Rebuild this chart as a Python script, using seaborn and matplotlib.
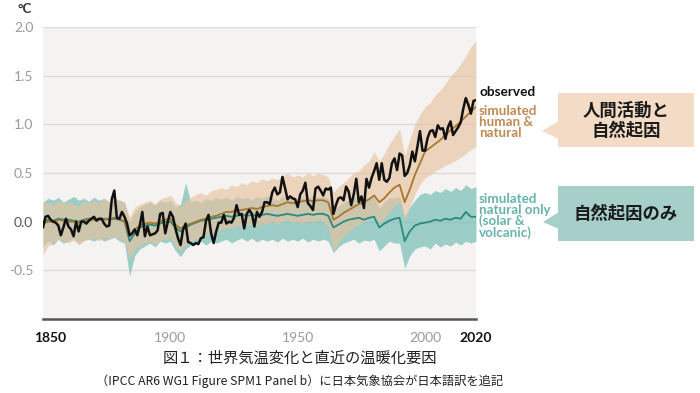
import matplotlib
matplotlib.use("Agg")
import matplotlib.pyplot as plt
import matplotlib.transforms as mtransforms
from matplotlib.patches import Polygon, Rectangle
import seaborn as sns

sns.set_style("white")
plt.rcParams["font.family"] = ["Lato", "Noto Sans CJK JP", "DejaVu Sans"]

# observed annual anomaly (°C, vs 1850-1900)
obs_years = list(range(1850, 2021))
observed = [
    -0.06, 0.05, 0.06, 0.02, 0.00, -0.01, -0.04, -0.14, -0.06, 0.03,
    -0.05, -0.08, -0.15, 0.00, -0.10, 0.00, 0.00, -0.02, 0.01, 0.03,
    0.05, 0.01, 0.03, 0.03, -0.02, -0.05, -0.04, 0.23, 0.32, 0.04,
    0.03, 0.10, 0.05, -0.02, -0.14, -0.12, -0.08, -0.14, -0.04, 0.10,
    -0.15, -0.05, -0.14, -0.13, -0.12, -0.09, 0.08, 0.09, -0.12, 0.00,
    0.10, 0.05, -0.07, -0.17, -0.24, -0.08, -0.02, -0.21, -0.22, -0.24,
    -0.22, -0.23, -0.17, -0.16, 0.01, 0.07, -0.12, -0.22, -0.10, -0.01,
    -0.01, 0.07, -0.02, 0.00, -0.01, 0.04, 0.17, 0.07, 0.08, -0.07,
    0.08, 0.12, 0.08, -0.05, 0.10, 0.05, 0.10, 0.20, 0.20, 0.18,
    0.30, 0.35, 0.28, 0.30, 0.46, 0.35, 0.23, 0.26, 0.24, 0.23,
    0.15, 0.28, 0.32, 0.40, 0.19, 0.16, 0.12, 0.34, 0.36, 0.32,
    0.27, 0.34, 0.33, 0.35, 0.08, 0.17, 0.24, 0.25, 0.22, 0.36,
    0.31, 0.17, 0.28, 0.44, 0.20, 0.26, 0.14, 0.44, 0.35, 0.45,
    0.52, 0.60, 0.43, 0.60, 0.43, 0.41, 0.45, 0.60, 0.65, 0.53,
    0.70, 0.68, 0.47, 0.50, 0.58, 0.72, 0.62, 0.77, 0.93, 0.73,
    0.73, 0.86, 0.93, 0.94, 0.87, 0.99, 0.95, 0.96, 0.85, 0.97,
    1.03, 0.89, 0.93, 0.97, 1.02, 1.16, 1.27, 1.20, 1.11, 1.24,
    1.25,
]

# simulated ranges, every two years
sim_years = list(range(1850, 2021, 2))
hn_mean = [
    -0.02, 0.00, 0.00, 0.02, 0.01, 0.00, 0.00, -0.01, 0.01, 0.02,
    0.02, 0.03, 0.02, 0.03, 0.04, 0.03, 0.00, -0.15, -0.08, -0.04,
    -0.02, -0.01, -0.02, 0.00, 0.02, 0.03, -0.03, -0.07, -0.04, -0.02,
    0.00, 0.02, 0.03, 0.05, 0.06, 0.08, 0.10, 0.10, 0.12, 0.12,
    0.13, 0.14, 0.13, 0.15, 0.16, 0.17, 0.16, 0.18, 0.20, 0.19,
    0.20, 0.21, 0.22, 0.21, 0.22, 0.22, 0.20, 0.02, 0.05, 0.09,
    0.12, 0.15, 0.18, 0.20, 0.23, 0.27, 0.20, 0.24, 0.30, 0.35,
    0.38, 0.20, 0.33, 0.48, 0.60, 0.72, 0.76, 0.80, 0.84, 0.89,
    0.94, 0.98, 1.03, 1.08, 1.13, 1.18,
]
hn_hi = [
    0.18, 0.20, 0.17, 0.22, 0.19, 0.20, 0.18, 0.16, 0.21, 0.20,
    0.22, 0.19, 0.24, 0.20, 0.25, 0.22, 0.20, 0.05, 0.15, 0.18,
    0.20, 0.22, 0.18, 0.23, 0.25, 0.27, 0.20, 0.15, 0.22, 0.25,
    0.28, 0.30, 0.27, 0.32, 0.33, 0.35, 0.33, 0.38, 0.36, 0.40,
    0.38, 0.42, 0.40, 0.44, 0.42, 0.45, 0.43, 0.47, 0.50, 0.46,
    0.48, 0.46, 0.50, 0.47, 0.50, 0.48, 0.46, 0.30, 0.36, 0.40,
    0.45, 0.50, 0.52, 0.58, 0.62, 0.72, 0.62, 0.70, 0.80, 0.88,
    0.95, 0.68, 0.85, 1.00, 1.10, 1.18, 1.22, 1.30, 1.35, 1.42,
    1.50, 1.55, 1.62, 1.70, 1.80, 1.86,
]
hn_lo = [
    -0.34, -0.25, -0.22, -0.18, -0.20, -0.22, -0.19, -0.24, -0.20, -0.18,
    -0.17, -0.20, -0.16, -0.18, -0.15, -0.17, -0.20, -0.38, -0.28, -0.24,
    -0.22, -0.20, -0.24, -0.19, -0.18, -0.16, -0.25, -0.30, -0.24, -0.20,
    -0.18, -0.16, -0.14, -0.12, -0.10, -0.08, -0.06, -0.07, -0.04, -0.05,
    -0.04, -0.02, -0.05, -0.01, -0.03, 0.00, -0.03, 0.00, 0.02, -0.01,
    0.00, -0.02, 0.01, -0.01, 0.02, 0.00, -0.05, -0.30, -0.22, -0.15,
    -0.10, -0.06, -0.03, 0.00, 0.03, 0.06, -0.02, 0.04, 0.10, 0.16,
    0.20, 0.02, 0.15, 0.28, 0.38, 0.45, 0.48, 0.52, 0.55, 0.58,
    0.60, 0.63, 0.66, 0.70, 0.74, 0.77,
]
nat_mean = [
    0.00, 0.02, 0.01, 0.03, 0.02, 0.02, 0.01, 0.00, 0.02, 0.03,
    0.03, 0.02, 0.03, 0.02, 0.03, 0.02, 0.00, -0.20, -0.12, -0.06,
    -0.04, -0.03, -0.04, -0.02, 0.00, 0.00, -0.06, -0.10, -0.06, -0.03,
    -0.01, 0.01, 0.02, 0.03, 0.04, 0.05, 0.06, 0.05, 0.06, 0.07,
    0.06, 0.07, 0.06, 0.07, 0.08, 0.07, 0.06, 0.07, 0.08, 0.07,
    0.06, 0.07, 0.08, 0.07, 0.08, 0.08, 0.06, -0.06, -0.03, 0.00,
    0.02, 0.03, 0.04, 0.02, 0.04, 0.05, -0.06, -0.02, 0.01, 0.03,
    0.04, -0.20, -0.10, -0.04, -0.02, -0.01, 0.00, 0.02, 0.01, 0.03,
    0.02, 0.04, 0.03, 0.10, 0.05, 0.05,
]
nat_hi = [
    0.20, 0.24, 0.22, 0.25, 0.20, 0.23, 0.26, 0.22, 0.24, 0.21,
    0.25, 0.22, 0.24, 0.20, 0.23, 0.22, 0.20, 0.00, 0.10, 0.15,
    0.18, 0.20, 0.17, 0.22, 0.20, 0.22, 0.15, 0.18, 0.40, 0.20,
    0.22, 0.20, 0.24, 0.22, 0.25, 0.23, 0.25, 0.22, 0.26, 0.24,
    0.25, 0.22, 0.26, 0.24, 0.27, 0.25, 0.22, 0.26, 0.24, 0.25,
    0.23, 0.26, 0.24, 0.27, 0.25, 0.27, 0.24, 0.12, 0.16, 0.20,
    0.22, 0.25, 0.22, 0.26, 0.24, 0.25, 0.14, 0.20, 0.25, 0.24,
    0.26, 0.05, 0.15, 0.22, 0.28, 0.30, 0.28, 0.32, 0.30, 0.34,
    0.31, 0.35, 0.32, 0.38, 0.34, 0.36,
]
nat_lo = [
    -0.25, -0.20, -0.24, -0.18, -0.22, -0.20, -0.17, -0.22, -0.19, -0.18,
    -0.20, -0.17, -0.20, -0.18, -0.16, -0.20, -0.22, -0.56, -0.35, -0.28,
    -0.25, -0.22, -0.26, -0.20, -0.22, -0.20, -0.30, -0.36, -0.28, -0.24,
    -0.22, -0.20, -0.24, -0.20, -0.22, -0.20, -0.18, -0.22, -0.19, -0.17,
    -0.20, -0.17, -0.21, -0.18, -0.20, -0.18, -0.21, -0.17, -0.20, -0.18,
    -0.20, -0.17, -0.21, -0.18, -0.20, -0.18, -0.20, -0.32, -0.26, -0.22,
    -0.20, -0.18, -0.22, -0.19, -0.20, -0.18, -0.30, -0.25, -0.20, -0.22,
    -0.22, -0.48, -0.35, -0.28, -0.26, -0.25, -0.28, -0.22, -0.26, -0.23,
    -0.25, -0.21, -0.24, -0.20, -0.22, -0.20,
]

y_ticks = [-0.5, 0.0, 0.5, 1.0, 1.5, 2.0]
x_labels = {1850: "1850", 1900: "1900", 1950: "1950", 2000: "2000", 2020: "2020"}

W, H = 700, 393
fig = plt.figure(figsize=(7, 3.93), dpi=100)
ax = fig.add_axes([43 / W, 1 - 319 / H, (476 - 43) / W, (319 - 27) / H])
ax.set_facecolor("#f4f3f2")

ax.fill_between(sim_years, nat_lo, nat_hi, color="#78bdb5", alpha=0.7, lw=0, zorder=2)
ax.fill_between(sim_years, hn_lo, hn_hi, color="#e8c29e", alpha=0.65, lw=0, zorder=3)
sns.lineplot(x=sim_years, y=nat_mean, color="#2b8a7c", lw=1.3, ax=ax, zorder=4)
sns.lineplot(x=sim_years, y=hn_mean, color="#a8772f", lw=1.3, ax=ax, zorder=5)
sns.lineplot(x=obs_years, y=observed, color="#111111", lw=1.8, ax=ax, zorder=6)

ax.set_xlim(1850, 2020)
ax.set_ylim(-1.0, 2.0)
for y in y_ticks:
    ax.axhline(y, color="#dcdbda", lw=1.0, zorder=1)

ax.set_yticks(y_ticks)
ax.set_yticklabels([f"{v:.1f}" for v in y_ticks])
ax.tick_params(axis="y", length=0, pad=7, labelsize=10, labelcolor="#9a9a9a")
for lbl in ax.get_yticklabels():
    if lbl.get_text() == "0.0":
        lbl.set_color("#555555")

xt = list(range(1850, 2021, 10))
ax.set_xticks(xt)
ax.set_xticklabels([x_labels.get(v, "") for v in xt])
ax.tick_params(axis="x", length=4, width=1, color="#777777", direction="out",
               pad=5, labelsize=10, labelcolor="#9a9a9a")
for v, lbl in zip(xt, ax.get_xticklabels()):
    if v in (1850, 2020):
        lbl.set_color("#111111")
        lbl.set_fontweight("bold")
ax.get_xticklabels()[0].set_transform(
    ax.get_xticklabels()[0].get_transform()
    + mtransforms.ScaledTranslation(7 / 100, 0, fig.dpi_scale_trans))
ticks = ax.xaxis.get_major_ticks()
for t in (ticks[0], ticks[-1]):
    t.tick1line.set_markersize(7)
    t.tick1line.set_markeredgewidth(1.8)
    t.tick1line.set_color("#333333")

for s in ("top", "right", "left"):
    ax.spines[s].set_visible(False)
ax.spines["bottom"].set_color("#555555")
ax.spines["bottom"].set_linewidth(1.8)
ax.set_xlabel("")
ax.set_ylabel("")


def px(x, y):
    return (x / W, 1 - y / H)


fig.text(*px(17, 9), "°C", fontsize=9.5, fontweight="bold", color="#333333",
         va="center", ha="left")

fig.text(*px(479, 92), "observed", fontsize=9.8, fontweight="bold", color="#111111",
         va="center", ha="left")
fig.text(*px(479, 105), "simulated\nhuman &\nnatural", fontsize=9.6, fontweight="bold",
         color="#c08a52", va="top", ha="left", linespacing=0.9)
fig.text(*px(479, 193), "simulated\nnatural only\n(solar &\nvolcanic)", fontsize=9.6,
         fontweight="bold", color="#66b3aa", va="top", ha="left", linespacing=0.88)

# callout boxes
box_top = "#f3dbc6"
box_bot = "#a6cfca"
fig.patches.append(Rectangle(px(558, 147), 136 / W, 54 / H, transform=fig.transFigure,
                             facecolor=box_top, edgecolor="none"))
fig.patches.append(Polygon([px(559, 121), px(559, 139), px(542, 131)], closed=True,
                           transform=fig.transFigure, facecolor=box_top, edgecolor="none"))
fig.patches.append(Rectangle(px(558, 241), 136 / W, 55 / H, transform=fig.transFigure,
                             facecolor=box_bot, edgecolor="none"))
fig.patches.append(Polygon([px(559, 212), px(559, 229), px(543, 222)], closed=True,
                           transform=fig.transFigure, facecolor=box_bot, edgecolor="none"))

cjk = ["Noto Sans CJK JP", "DejaVu Sans"]
fig.text(*px(626, 121), "人間活動と\n自然起因", fontsize=12.5, fontweight="bold",
         color="#1a1a1a", ha="center", va="center", linespacing=1.15, family=cjk)
fig.text(*px(626, 214), "自然起因のみ", fontsize=12.5, fontweight="bold",
         color="#1a1a1a", ha="center", va="center", family=cjk)

fig.text(*px(300, 358), "図１：世界気温変化と直近の温暖化要因", fontsize=11,
         color="#222222", ha="center", va="center", family=cjk)
fig.text(*px(300, 381), "（IPCC AR6 WG1 Figure SPM1 Panel b）に日本気象協会が日本語訳を追記",
         fontsize=8.8, color="#222222", ha="center", va="center", family=cjk)

fig.savefig("out.png", dpi=100)
